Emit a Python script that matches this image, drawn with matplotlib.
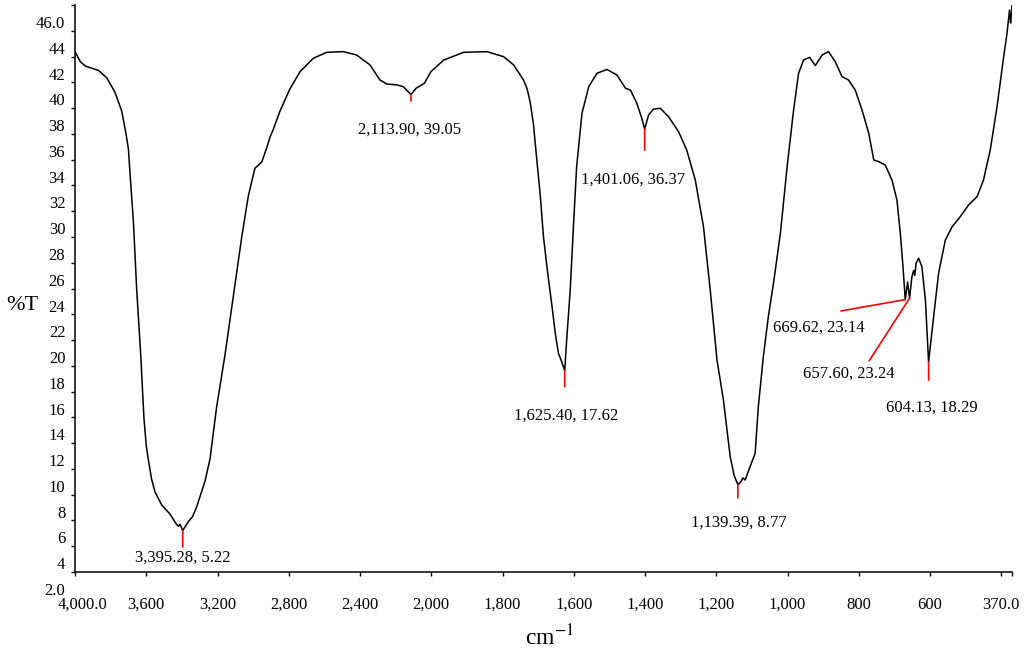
import numpy as np
import matplotlib
matplotlib.use("Agg")
import matplotlib.pyplot as plt
from matplotlib.transforms import ScaledTranslation

plt.rcParams['font.family'] = ['Liberation Serif', 'DejaVu Serif']
plt.rcParams['mathtext.fontset'] = 'stix'

# spectre (cm-1, %T)
wavenumber = [4000, 3970, 3944, 3916, 3869, 3822, 3775, 3738, 3714, 3700, 3691, 3672, 3654, 3631,
              3613, 3600, 3589, 3570, 3551, 3513, 3467, 3433, 3420, 3410, 3395.28, 3364, 3340, 3317, 3270,
              3242, 3205, 3158, 3111, 3064, 3027, 2990, 2952, 2924, 2905, 2887, 2849,
              2793, 2737, 2662, 2587, 2494, 2419, 2344, 2288, 2250, 2194, 2157, 2113.9,
              2085, 2039, 2002, 1965, 1909, 1844, 1797, 1769, 1741, 1731, 1722, 1713,
              1708, 1694, 1685, 1675, 1661, 1652, 1643, 1634, 1625.4, 1620, 1610, 1601,
              1592, 1577, 1558, 1535, 1507, 1479, 1455, 1441, 1423, 1409, 1401.06, 1390,
              1376, 1357, 1334, 1306, 1283, 1259, 1236, 1217, 1198, 1180, 1161, 1150, 1139.39,
              1131, 1125, 1119, 1109, 1091, 1082, 1068, 1054, 1039, 1020, 1001, 983,
              969, 955, 938, 922, 903, 885, 866, 847, 829, 810, 791, 772,
              758, 744, 726, 707, 693, 683.5, 676, 669.62, 663, 657.6, 651, 646,
              643, 639, 632, 623, 613, 604.13, 590, 576, 557, 538, 515, 492,
              468, 450, 431, 412, 394, 384, 377, 374, 372, 370]
transmittance = [42.37, 41.6, 41.28, 41.14, 40.93, 40.36, 39.21, 37.78, 36.05, 34.8, 32.9, 29.16, 24.0, 18.84,
                 13.95, 11.8, 10.78, 9.2, 8.21, 7.2, 6.5, 5.76, 5.55, 5.7, 5.22, 5.9, 6.3, 7.05, 9.06,
                 10.78, 14.8, 18.84, 23.4, 28.0, 31.18, 33.33, 33.8, 34.9, 35.76, 36.34, 37.78,
                 39.5, 40.82, 41.87, 42.33, 42.38, 42.12, 41.35, 40.18, 39.87, 39.8, 39.66, 39.05,
                 39.54, 39.92, 40.83, 41.73, 42.33, 42.38, 41.99, 41.35, 40.18, 39.5, 38.4, 36.7,
                 35.2, 31.2, 28.0, 25.6, 22.6, 20.52, 18.97, 18.32, 17.62, 20.0, 23.88, 28.8,
                 33.45, 37.6, 39.66, 40.7, 41.0, 40.57, 39.54, 39.4, 38.37, 37.2, 36.37, 37.47,
                 37.93, 37.98, 37.33, 36.17, 34.75, 32.42, 28.8, 23.88, 18.45, 15.35, 10.95, 9.5, 8.77,
                 9.0, 9.3, 9.14, 9.9, 11.2, 14.83, 18.7, 21.8, 24.5, 28.3, 33.5, 37.85,
                 40.7, 41.73, 41.94, 41.3, 42.12, 42.38, 41.6, 40.44, 40.18, 39.4, 37.85, 36.04,
                 33.97, 33.84, 33.59, 32.42, 30.87, 28.3, 25.7, 23.14, 24.5, 23.24, 24.9, 25.4,
                 25.0, 25.97, 26.35, 25.7, 23.1, 18.29, 21.81, 25.2, 27.77, 28.8, 29.58, 30.48,
                 31.13, 32.42, 34.75, 38.1, 41.87, 43.8, 45.6, 44.6, 45.2, 46.0]

peak_wn = [3395.28, 2113.90, 1625.40, 1401.06, 1139.39, 669.62, 657.60, 604.13]
peak_t = [5.22, 39.05, 17.62, 36.37, 8.77, 23.14, 23.24, 18.29]

xtick_vals = [4000, 3600, 3200, 2800, 2400, 2000, 1800, 1600, 1400, 1200, 1000, 800, 600, 400, 370]
xtick_labels = ['4,000.0', '3,600', '3,200', '2,800', '2,400', '2,000', '1,800', '1,600',
                '1,400', '1,200', '1,000', '800', '600', '', '370.0']
ytick_vals = list(range(2, 47, 2))
ytick_labels = ['2.0'] + [str(v) for v in range(4, 46, 2)] + ['46.0']

# decalage des traits rouges et des etiquettes (pixels)
line_off = [(0, -16.5), (0, -6.5), (0, -16), (0, -21), (0, -13), (-64.3, -11.4), (-40.3, -62.4), (0, -18)]
text_off = [(0, -27.5), (-1, -35.5), (1, -45), (-11.5, -51), (1, -38), (-86.3, -28), (-60.6, -75.2), (3.4, -46)]


# echelle dilatee x2 sous 2000 cm-1
def fwd(w):
    w = np.asarray(w, dtype=float)
    return np.where(w > 2000, 2000 + (w - 2000) / 2.0, w)


def inv(u):
    u = np.asarray(u, dtype=float)
    return np.where(u > 2000, 2000 + (u - 2000) * 2.0, u)


fig = plt.figure(figsize=(10.24, 6.5), dpi=100)
ax = fig.add_axes([75 / 1024, 78 / 650, 937 / 1024, 567 / 650])
ax.set_xscale('function', functions=(fwd, inv))

ax.plot(wavenumber, transmittance, color='black', lw=1.1)

for i in range(len(peak_wn)):
    ax.annotate('', xy=(peak_wn[i], peak_t[i]), xytext=line_off[i], textcoords='offset pixels',
                arrowprops=dict(arrowstyle='-', color='red', lw=1.2, shrinkA=0, shrinkB=0))
    ax.annotate(f"{peak_wn[i]:,.2f}, {peak_t[i]:.2f}", xy=(peak_wn[i], peak_t[i]),
                xytext=text_off[i], textcoords='offset pixels',
                ha='center', va='center', fontsize=12)

ax.set_xlim(4000, 370)
ax.set_ylim(2, 46)
ax.set_xticks(xtick_vals)
ax.set_xticklabels(xtick_labels)
ax.set_yticks(ytick_vals)
ax.set_yticklabels(ytick_labels)
ax.minorticks_off()
ax.tick_params(axis='both', direction='out', length=3, width=1, labelsize=12)
ax.tick_params(axis='x', pad=15)
ax.tick_params(axis='y', pad=4)

for s in ['top', 'right']:
    ax.spines[s].set_visible(False)
for s in ['left', 'bottom']:
    ax.spines[s].set_linewidth(1.1)

# les etiquettes y sont decalees vers le bas dans l'original
dy = ScaledTranslation(0, -17 / 100, fig.dpi_scale_trans)
for lab in ax.get_yticklabels():
    lab.set_transform(lab.get_transform() + dy)
xl = ax.get_xticklabels()
xl[0].set_transform(xl[0].get_transform() + ScaledTranslation(7 / 100, 0, fig.dpi_scale_trans))
xl[-1].set_transform(xl[-1].get_transform() + ScaledTranslation(-11 / 100, 0, fig.dpi_scale_trans))

fig.text(22 / 1024, 1 - 305 / 650, '%T', fontsize=16, ha='center', va='center')
fig.text(550 / 1024, 5 / 650, r'cm$^{-1}$', fontsize=17, ha='center', va='baseline')

fig.savefig('out.png', dpi=100)
